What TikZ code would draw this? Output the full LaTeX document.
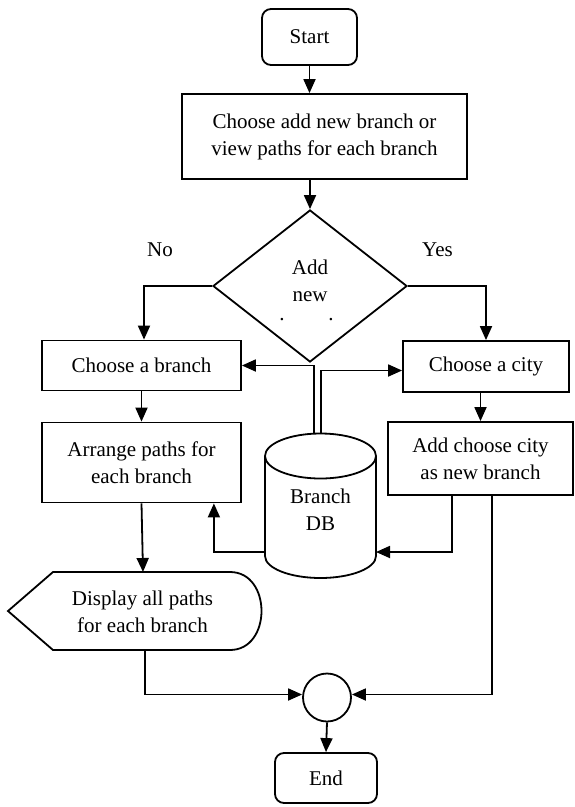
\documentclass[tikz,border=0pt]{standalone}
\usepackage{fontspec}
\setmainfont{Liberation Serif}
\usetikzlibrary{arrows.meta,shapes.geometric}
\begin{document}
\begin{tikzpicture}[x=1pt,y=1pt,
  every node/.style={font=\fontsize{21}{27}\selectfont, align=center, inner sep=0pt},
  box/.style={draw, line width=1.8pt},
  proc/.style={box, rectangle},
  term/.style={box, rectangle, rounded corners=9pt},
  conn/.style={line width=1.8pt},
  arr/.style={conn, -{Triangle[length=14pt,width=12pt]}}
]
\useasboundingbox (0,0) rectangle (575,-807);
\fill[white] (0,0) rectangle (575,-807);

% nodes
\node[term, minimum width=95pt, minimum height=56pt] (start) at (309.5,-37) {Start};
\node[proc, minimum width=285pt, minimum height=85pt] (choose) at (324.5,-136.5)
  {Choose add new branch or\\view paths for each branch};
\node[box, diamond, minimum width=194pt, minimum height=152pt] (dec) at (310,-286) {};
\node (dectext) at (310,-281) {Add\\new};
\node[anchor=base] (dot1) at (282,-320) {.};
\node[anchor=base] (dot2) at (331,-320) {.};
\node (no) at (160,-250) {No};
\node (yes) at (437.5,-250) {Yes};

\node[proc, minimum width=199pt, minimum height=50pt] (cb) at (141.5,-365.5) {Choose a branch};
\node[proc, minimum width=199pt, minimum height=80pt] (ar) at (141.5,-462.5) {Arrange paths for\\each branch};
\node[proc, minimum width=166pt, minimum height=51pt] (city) at (486,-366.5) {Choose a city};
\node[proc, minimum width=185pt, minimum height=73pt] (add) at (480.5,-458.5) {Add choose city\\as new branch};

% display shape
\node (disp) at (142.5,-611.5) {Display all paths\\for each branch};
\draw[line width=1.8pt] (53,-572) -- (230,-572) .. controls (272,-572) and (272,-650) .. (230,-650)
  -- (53,-650) -- (8,-611) -- cycle;
\coordinate (dispT) at (143,-572);
\coordinate (dispB) at (145,-650);

% database cylinder
\draw[line width=1.8pt, fill=white] (265,-456) -- (265,-556) arc (180:360:55.5 and 22) -- (376,-456);
\draw[line width=1.8pt] (320.5,-456) ellipse (55.5 and 22.5);
\node (db) at (320.5,-510) {Branch\\DB};
\coordinate (dbTL) at (314,-434);
\coordinate (dbTR) at (321,-434);
\coordinate (dbW) at (265,-552);
\coordinate (dbE) at (376,-552);

\node[box, circle, minimum size=48pt] (join) at (327,-697.5) {};
\node[term, minimum width=102pt, minimum height=50pt] (end) at (326,-778) {End};

% connectors
\draw[arr] (start.south) -- (start.south |- choose.north);
\draw[arr] (choose.south -| dec.north) -- (dec.north);
\draw[arr] (dec.west) -| ([xshift=2.5pt]cb.north);
\draw[arr] (dec.east) -| (city.north);
\draw[arr] (cb.south) -- (ar.north);
\draw[arr] (city.south -| add.north) -- (add.north);
\draw[arr] (ar.south) -- (dispT);
\draw[arr] (dbTL) |- (cb.east);
\draw[arr] (dbTR) |- ([yshift=-4pt]city.west);
\draw[arr] (dbW) -| ([xshift=-28pt]ar.south east);
\draw[arr] ([xshift=-28.5pt]add.south) |- (dbE);
\draw[arr] ([xshift=11.5pt]add.south) |- ([yshift=3pt]join.east);
\draw[arr] (dispB) |- ([yshift=3pt]join.west);
\draw[arr] (join.south) -- (end.north);
\end{tikzpicture}
\end{document}
